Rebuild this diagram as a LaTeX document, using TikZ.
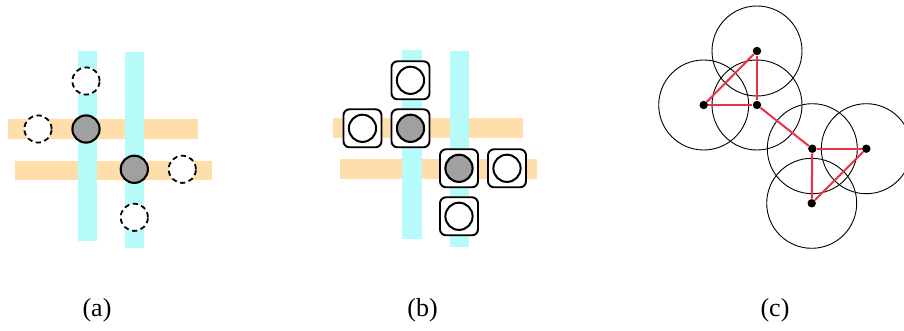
\documentclass[tikz,border=0pt]{standalone}
\usepackage{fontspec}
\setmainfont{Liberation Serif}
\usetikzlibrary{positioning}

\definecolor{barcyan}{RGB}{182,250,250}
\definecolor{barorange}{RGB}{255,222,172}
\definecolor{cellgray}{RGB}{160,160,160}
\definecolor{linkred}{RGB}{238,48,72}

\begin{document}
\begin{tikzpicture}[x=0.5pt,y=-0.5pt]
\tikzset{
    vbar/.style={
        fill=barcyan,
    },
    hbar/.style={
        fill=barorange,
    },
    occupied/.style={
        draw,
        circle,
        line width=1.05pt,
        fill=cellgray,
        minimum size=13.6pt,
        inner sep=0pt
    },
    ghost/.style={ % dashed candidate
        draw,
        circle,
        line width=0.9pt,
        dash pattern=on 2.6pt off 1.8pt,
        fill=white,
        minimum size=13.6pt,
        inner sep=0pt
    },
    free/.style={
        draw,
        circle,
        line width=1pt,
        fill=white,
        minimum size=13.6pt,
        inner sep=0pt
    },
    cell/.style={
        draw,
        rectangle,
        rounded corners=3pt,
        line width=0.95pt,
        fill=white,
        minimum size=19pt,
        inner sep=0pt
    },
    sensor/.style={
        fill,
        circle,
        minimum size=4.2pt,
        inner sep=0pt
    },
    sensing range/.style={
        draw,
        line width=0.45pt
    },
    link/.style={
        draw=linkred,
        line width=1pt
    },
    caption/.style={
        font=\fontsize{13}{15}\selectfont
    },
    node distance=24pt,
    on grid,
}
\useasboundingbox (0,0) rectangle (904,331);

% (a)
\fill[hbar] (8,119) rectangle (198,139);
\fill[hbar] (15,161) rectangle (212,180);
\fill[vbar] (78,51) rectangle (97,241);
\fill[vbar] (125,52) rectangle (144,248);
\node[occupied] (a1) at (86,129) {};
\node[occupied] (a2) at (134.3,169.3) {};
\node[ghost, above=of a1] (a1n) {};
\node[ghost, left=of a1] (a1w) {};
\node[ghost, right=of a2] (a2e) {};
\node[ghost, below=of a2] (a2s) {};
\node[caption] (capa) at (97,310) {(a)};

% (b)
\fill[hbar] (333,118) rectangle (523,138);
\fill[hbar] (340,159) rectangle (537,179);
\fill[vbar] (402,50) rectangle (422,239);
\fill[vbar] (450,51) rectangle (469,247);
\node[cell] (b1) at (410.5,128.3) {};
\node[cell] (b2) at (459,168.3) {};
\node[cell, above=of b1] (b1n) {};
\node[cell, left=of b1] (b1w) {};
\node[cell, right=of b2] (b2e) {};
\node[cell, below=of b2] (b2s) {};
\node[occupied] at (b1) {};
\node[occupied] at (b2) {};
\foreach \c in {b1n,b1w,b2e,b2s}
    \node[free] at (\c) {};
\node[caption] (capb) at (422.5,310) {(b)};

% (c)
\node[sensor] (c1) at (757,51) {};
\node[sensor] (c2) at (703.7,105) {};
\node[sensor] (c3) at (757,105) {};
\node[sensor] (c4) at (812.3,148.7) {};
\node[sensor] (c5) at (866.3,148.7) {};
\node[sensor] (c6) at (811.7,203.3) {};
\foreach \i in {1,...,6}
    \draw[sensing range] (c\i) circle[radius=45];
\draw[link] (c1) -- (c2);
\draw[link] (c1) -- (c3);
\draw[link] (c2) -- (c3);
\draw[link] (c3) -- (c4);
\draw[link] (c4) -- (c5);
\draw[link] (c4) -- (c6);
\draw[link] (c5) -- (c6);
\node[caption] (capc) at (775,310) {(c)};
\end{tikzpicture}
\end{document}
